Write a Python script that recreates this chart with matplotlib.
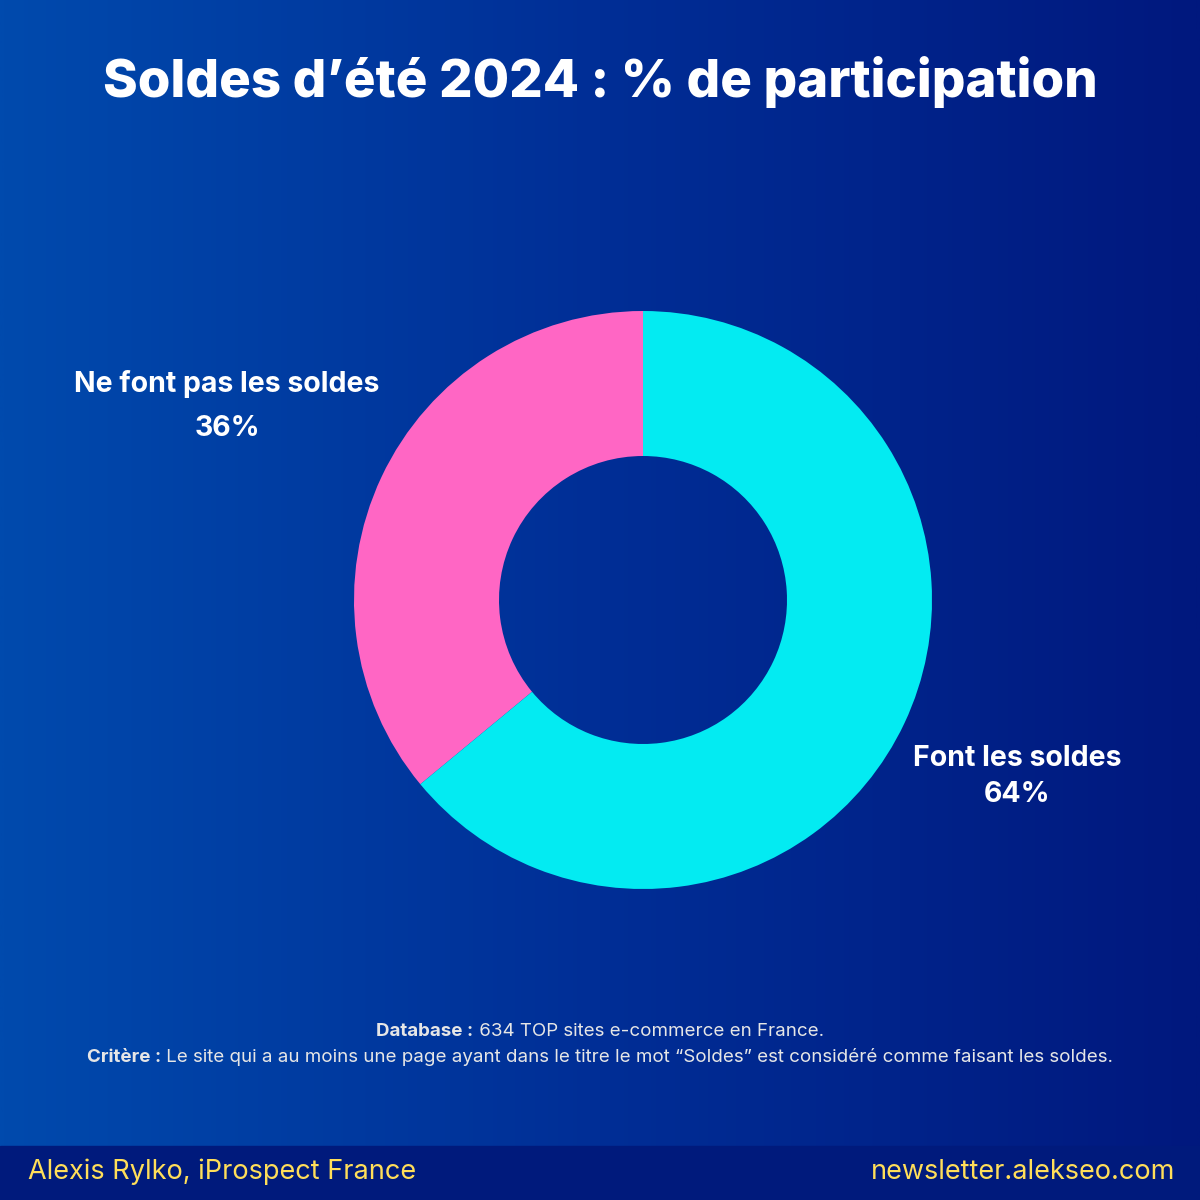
import matplotlib
matplotlib.use("Agg")
import matplotlib.pyplot as plt
import numpy as np
from matplotlib.colors import LinearSegmentedColormap

# données du graphique
categories = ["Ne font pas les soldes", "Font les soldes"]
values = [36, 64]
colors = ["#FF66C4", "#03EBF2"]

title = "Soldes d\u2019été 2024 : % de participation"
note_bold = ["Database :", "Critère :"]
note_text = [" 634 TOP sites e-commerce en France.",
             " Le site qui a au moins une page ayant dans le titre le mot \u201cSoldes\u201d est considéré comme faisant les soldes."]
footer_left = "Alexis Rylko, iProspect France"
footer_right = "newsletter.alekseo.com"

plt.rcParams['font.family'] = ['Inter', 'DejaVu Sans']

W = H = 1200
fig = plt.figure(figsize=(12, 12), dpi=100)

# fond en dégradé
bg = fig.add_axes([0, 0, 1, 1])
cmap = LinearSegmentedColormap.from_list("bg", ["#004AAD", "#012E96", "#00187E"])
grad = np.tile(np.linspace(0, 1, 512), (2, 1))
bg.imshow(grad, cmap=cmap, aspect="auto", extent=[0, W, 0, H])
bg.add_patch(plt.Rectangle((0, 0), W, 54, color="#001A7C", zorder=2))
bg.set_xlim(0, W)
bg.set_ylim(0, H)
bg.axis('off')

# donut
ax = fig.add_axes([0, 0, 1, 1])
ax.patch.set_alpha(0)
ax.pie(values, colors=colors, startangle=90, counterclock=True,
       center=(643, H - 600), radius=289,
       wedgeprops=dict(width=145, linewidth=0), frame=False)
ax.set_xlim(0, W)
ax.set_ylim(0, H)
ax.set_aspect('equal')
ax.axis('off')

# titre
fig.text(600 / W, 1 - 82 / H, title, ha='center', va='center', color='white',
         fontsize=38, fontweight='heavy')

# étiquettes
label_pos = [(227, 384, 428), (1017, 758, 795)]
for cat, v, (x, y1, y2) in zip(categories, values, label_pos):
    fig.text(x / W, 1 - y1 / H, cat, ha='center', va='center', color='white',
             fontsize=20.5, fontweight='bold')
    fig.text(x / W, 1 - y2 / H, f"{v}%", ha='center', va='center', color='white',
             fontsize=20.5, fontweight='bold')

# notes en bas (gras + normal, centrées)
renderer = fig.canvas.get_renderer()
for b, t, y in zip(note_bold, note_text, [1031, 1057]):
    tb = fig.text(0, 1 - y / H, b, ha='left', va='center', color='#E6E6E6',
                  fontsize=13.5, fontweight='bold')
    tt = fig.text(0, 1 - y / H, t, ha='left', va='center', color='#E6E6E6',
                  fontsize=13.5)
    wb = tb.get_window_extent(renderer).width
    wt = tt.get_window_extent(renderer).width
    x0 = (W - wb - wt) / 2
    tb.set_x(x0 / W)
    tt.set_x((x0 + wb) / W)

# pied de page
fig.text(28 / W, 1 - 1172 / H, footer_left, ha='left', va='center',
         color='#FFDE59', fontsize=19.5)
fig.text(1175 / W, 1 - 1172 / H, footer_right, ha='right', va='center',
         color='#FFDE59', fontsize=19.5)

fig.savefig("out.png", dpi=100)
